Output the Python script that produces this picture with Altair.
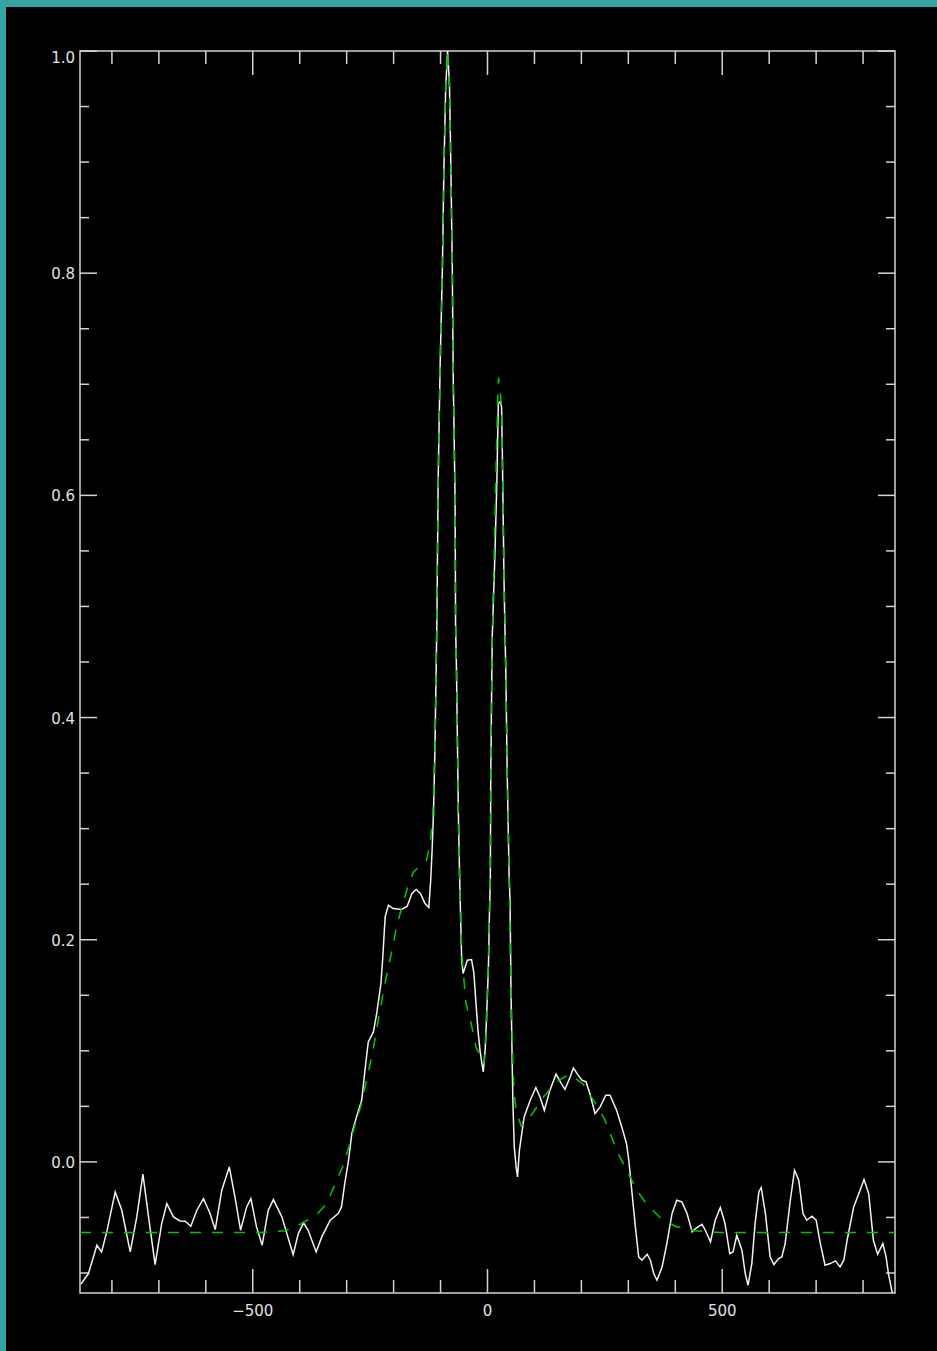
import altair as alt
import pandas as pd

# Observed line profile: velocity (km/s) and normalised flux
vel = [
    -866, -850, -832, -822, -811, -793, -779, -761, -747, -734,
    -722, -708, -694, -683, -669, -655, -644, -632, -619, -605,
    -591, -580, -566, -550, -538, -526, -513, -504, -492, -480,
    -467, -456, -438, -414, -403, -392, -382, -365, -353, -335,
    -318, -311, -304, -296, -289, -279, -268, -261, -254, -243,
    -236, -227, -223, -218, -211, -201, -183, -171, -161, -152,
    -143, -133, -125, -121, -118, -115, -112, -108, -105, -101,
    -96, -93, -89, -85, -81, -78, -75, -73, -69, -68,
    -66, -62, -59, -55, -52, -43, -34, -29, -25, -20,
    -16, -12, -9, -5, -2, 2, 4, 6, 7, 10,
    16, 20, 23, 27, 30, 32, 35, 37, 39, 42,
    46, 48, 50, 54, 57, 61, 64, 68, 73, 78,
    91, 103, 112, 121, 133, 146, 157, 165, 176, 183,
    193, 201, 210, 218, 229, 240, 252, 261, 275, 286,
    296, 301, 308, 315, 322, 329, 340, 347, 354, 361,
    372, 382, 393, 403, 414, 425, 436, 443, 457, 464,
    475, 485, 496, 506, 516, 523, 531, 542, 549, 555,
    563, 570, 578, 583, 592, 602, 610, 620, 627, 634,
    645, 654, 663, 672, 680, 691, 700, 709, 719, 730,
    741, 751, 759, 766, 780, 791, 802, 812, 822, 831,
    842, 849, 854, 861, 867,
]
flux = [
    -0.110, -0.1005, -0.075, -0.081, -0.063, -0.027, -0.0435, -0.081, -0.0495, -0.011,
    -0.0495, -0.0924, -0.0555, -0.0375, -0.0495, -0.0531, -0.0534, -0.0579, -0.0435, -0.033,
    -0.0465, -0.0609, -0.0255, -0.0045, -0.0315, -0.0615, -0.0405, -0.033, -0.0585, -0.075,
    -0.0435, -0.0339, -0.0495, -0.0834, -0.0645, -0.0549, -0.0615, -0.081, -0.0675, -0.0525,
    -0.0465, -0.0405, -0.0194, 0.0015, 0.0256, 0.0405, 0.0555, 0.0826, 0.108, 0.117,
    0.1336, 0.1606, 0.1846, 0.2206, 0.2311, 0.2281, 0.2272, 0.2302, 0.2416, 0.2452,
    0.2416, 0.2326, 0.229, 0.2536, 0.2806, 0.314, 0.3707, 0.4817, 0.6153, 0.7143,
    0.8058, 0.8899, 0.9678, 1.0, 0.9694, 0.8944, 0.8058, 0.7067, 0.5957, 0.4832,
    0.4411, 0.3121, 0.2491, 0.1816, 0.1696, 0.1816, 0.1822, 0.1699, 0.1456, 0.117,
    0.1006, 0.0886, 0.081, 0.1006, 0.1305, 0.1756, 0.2206, 0.2536, 0.3497, 0.4712,
    0.5492, 0.6137, 0.6828, 0.6842, 0.6797, 0.6272, 0.5282, 0.4832, 0.4411, 0.3497,
    0.2581, 0.2356, 0.1546, 0.0555, 0.0135, -0.0045, -0.0135, 0.0105, 0.0256, 0.0405,
    0.0555, 0.067, 0.0585, 0.0465, 0.0646, 0.079, 0.0706, 0.0652, 0.0765, 0.0846,
    0.0781, 0.0736, 0.072, 0.0616, 0.0436, 0.0495, 0.06, 0.06, 0.0465, 0.0315,
    0.0166, 0.0015, -0.0285, -0.0585, -0.0855, -0.0885, -0.0831, -0.0885, -0.1005, -0.1065,
    -0.0945, -0.0735, -0.0465, -0.0345, -0.036, -0.0465, -0.063, -0.06, -0.0561, -0.0615,
    -0.072, -0.0525, -0.041, -0.0555, -0.0825, -0.081, -0.066, -0.0795, -0.1005, -0.111,
    -0.0915, -0.0555, -0.027, -0.023, -0.0465, -0.0855, -0.0924, -0.087, -0.0855, -0.0735,
    -0.0345, -0.0075, -0.0165, -0.0465, -0.0525, -0.0489, -0.0525, -0.0735, -0.093, -0.0915,
    -0.0891, -0.0945, -0.0885, -0.0705, -0.0405, -0.0285, -0.0158, -0.0285, -0.0705, -0.0831,
    -0.0735, -0.0855, -0.1005, -0.1155, -0.125,
]

# Multi-component model fit
fit_vel = [
    -868, -484, -431, -399, -365, -342, -324, -307, -295, -283,
    -270, -253, -243, -230, -220, -211, -202, -194, -183, -172,
    -158, -130, -122, -117, -115, -112, -108, -105, -101, -96,
    -93, -89, -85, -81, -78, -75, -73, -69, -68, -66,
    -62, -59, -55, -51, -46, -34, -24.5, -10.6, -7.5, -3,
    1.7, 4, 6, 7, 10, 15, 19, 22, 23.5, 26.6,
    30, 33.6, 35, 38, 42, 46, 50, 54, 56.4, 60.7,
    72, 96, 120, 147, 174, 203, 229, 249, 264, 279,
    297, 317, 340, 368, 400, 440, 495, 868,
]
fit_flux = [
    -0.0636, -0.0636, -0.062, -0.0561, -0.048, -0.0372, -0.0192, -0.003, 0.0141, 0.0321,
    0.05, 0.0826, 0.1024, 0.1339, 0.1573, 0.1753, 0.1933, 0.2113, 0.2284, 0.2446,
    0.2608, 0.2716, 0.2869, 0.3078, 0.328, 0.37, 0.482, 0.615, 0.714, 0.806,
    0.89, 0.968, 1.0, 0.969, 0.894, 0.806, 0.707, 0.596, 0.483, 0.441,
    0.312, 0.249, 0.19, 0.168, 0.143, 0.123, 0.103, 0.0925, 0.088, 0.115,
    0.176, 0.22, 0.254, 0.35, 0.47, 0.56, 0.64, 0.69, 0.706, 0.695,
    0.68, 0.58, 0.53, 0.47, 0.35, 0.26, 0.155, 0.089, 0.066, 0.046,
    0.032, 0.0437, 0.059, 0.072, 0.079, 0.0704, 0.0533, 0.0389, 0.0227, 0.0069,
    -0.0075, -0.025, -0.0385, -0.0502, -0.0579, -0.0619, -0.0636, -0.0636,
]

# Axis ticks and labels
x_major = [-500, 0, 500]
x_minor = [-800, -700, -600, -400, -300, -200, -100, 100, 200, 300, 400, 600, 700, 800]
y_major = [0.0, 0.2, 0.4, 0.6, 0.8, 1.0]
y_minor = [-0.1, -0.05, 0.05, 0.1, 0.15, 0.25, 0.3, 0.35, 0.45, 0.5, 0.55,
           0.65, 0.7, 0.75, 0.85, 0.9, 0.95]

W, H = 815, 1242
PAD = {"left": 80, "top": 51, "right": 42, "bottom": 58}
FRAME = "#d4d4d4"
TEXT = "#e2e2e2"
TEAL = "#35a4a4"
FONT = "DejaVu Sans"

xs = alt.Scale(domain=[-868, 868], nice=False, zero=False)
ys = alt.Scale(domain=[-0.118, 1.0], nice=False, zero=False)

spec_df = pd.DataFrame({"v": vel, "f": flux})
spec_df["i"] = range(len(spec_df))
fit_df = pd.DataFrame({"v": fit_vel, "f": fit_flux})
fit_df["i"] = range(len(fit_df))

X = alt.X("v:Q", scale=xs, axis=None)
Y = alt.Y("f:Q", scale=ys, axis=None)

spectrum = alt.Chart(spec_df).mark_line(color="#f2f2f2", strokeWidth=1.5, clip=True).encode(
    x=X, y=Y, order="i:Q")

fit = alt.Chart(fit_df).mark_line(color="#00c800", strokeWidth=1.5, strokeDash=[11, 11],
                                  clip=True).encode(x=X, y=Y, order="i:Q")


def x_ticks(vals, length):
    d = pd.DataFrame({"v": vals})
    bottom = alt.Chart(d).mark_rule(color=FRAME, strokeWidth=1.5).encode(
        x=X, y=alt.value(H), y2=alt.value(H - length))
    top = alt.Chart(d).mark_rule(color=FRAME, strokeWidth=1.5).encode(
        x=X, y=alt.value(0), y2=alt.value(length))
    return [bottom, top]


def y_ticks(vals, length):
    d = pd.DataFrame({"f": vals})
    left = alt.Chart(d).mark_rule(color=FRAME, strokeWidth=1.5).encode(
        y=Y, x=alt.value(0), x2=alt.value(length))
    right = alt.Chart(d).mark_rule(color=FRAME, strokeWidth=1.5).encode(
        y=Y, x=alt.value(W), x2=alt.value(W - length))
    return [left, right]


# Tick labels
text_style = dict(color=TEXT, font=FONT, fontSize=15)
x_labels = alt.Chart(pd.DataFrame({"v": x_major})).mark_text(
    align="center", baseline="top", **text_style).encode(
    x=X, y=alt.value(H + 11), text=alt.Text("v:Q", format="d"))
y_df = pd.DataFrame({"f": y_major})
y_labels = alt.Chart(y_df).mark_text(
    align="right", baseline="middle", dy=1, **text_style).encode(
    y=Y, x=alt.value(-5), text=alt.Text("f:Q", format=".1f")
).transform_filter("datum.f < 0.99")
y_label_top = alt.Chart(y_df).mark_text(
    align="right", baseline="top", **text_style).encode(
    y=Y, x=alt.value(-5), text=alt.Text("f:Q", format=".1f")
).transform_filter("datum.f >= 0.99")

# Window border strips along the top and left edges
one = alt.Data(values=[{}])
strip_top = alt.Chart(one).mark_rect(color=TEAL, clip=False).encode(
    x=alt.value(-PAD["left"]), x2=alt.value(W + PAD["right"]),
    y=alt.value(-PAD["top"]), y2=alt.value(-PAD["top"] + 7))
strip_left = alt.Chart(one).mark_rect(color=TEAL, clip=False).encode(
    x=alt.value(-PAD["left"]), x2=alt.value(-PAD["left"] + 6),
    y=alt.value(-PAD["top"]), y2=alt.value(H + PAD["bottom"]))

layers = [strip_top, strip_left]
layers += x_ticks(x_major, 24) + x_ticks(x_minor, 13)
layers += y_ticks(y_major, 17) + y_ticks(y_minor, 9)
layers += [x_labels, y_labels, y_label_top, spectrum, fit]

chart = alt.layer(*layers).properties(
    width=W, height=H, padding=PAD,
    autosize=alt.AutoSizeParams(type="none"),
    background="black",
).configure_view(stroke=FRAME, strokeWidth=1.5, fill="black")

chart.save("out.html", embed_options={"renderer": "svg", "actions": False})
